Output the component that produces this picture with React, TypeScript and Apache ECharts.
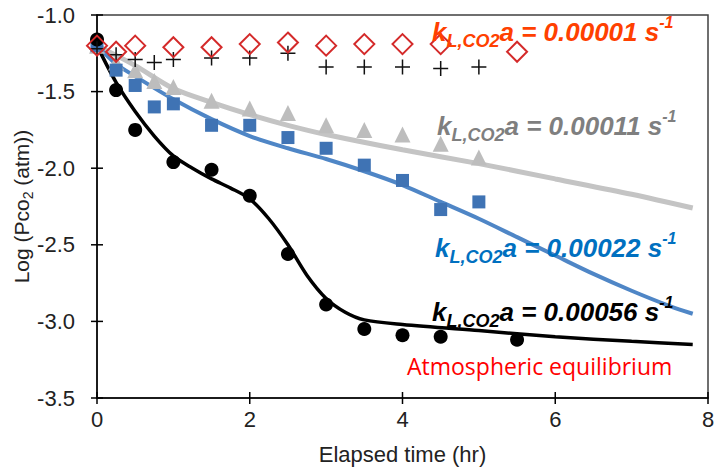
import React, { useEffect, useRef } from "react";
import * as echarts from "echarts";

// Measured points
const blackX = [0, 0.25, 0.5, 1, 1.5, 2, 2.5, 3, 3.5, 4, 4.5, 5.5];
const blackY = [-1.16, -1.49, -1.75, -1.96, -2.01, -2.18, -2.56, -2.89, -3.05, -3.09, -3.1, -3.12];
const grayX = [0, 0.25, 0.5, 0.75, 1, 1.5, 2, 2.5, 3, 3.5, 4, 4.5, 5];
const grayY = [-1.2, -1.31, -1.36, -1.43, -1.47, -1.56, -1.61, -1.64, -1.72, -1.75, -1.78, -1.84, -1.93];
const blueX = [0, 0.25, 0.5, 0.75, 1, 1.5, 2, 2.5, 3, 3.5, 4, 4.5, 5];
const blueY = [-1.2, -1.36, -1.46, -1.6, -1.58, -1.72, -1.72, -1.8, -1.87, -1.98, -2.08, -2.27, -2.22];
const redX = [0, 0.25, 0.5, 1, 1.5, 2, 2.5, 3, 3.5, 4, 4.5, 5.5];
const redY = [-1.2, -1.24, -1.2, -1.21, -1.21, -1.19, -1.18, -1.2, -1.19, -1.19, -1.19, -1.24];
const plusX = [0, 0.25, 0.5, 0.75, 1, 1.5, 2, 2.5, 3, 3.5, 4, 4.5, 5];
const plusY = [-1.22, -1.26, -1.29, -1.31, -1.29, -1.28, -1.28, -1.25, -1.34, -1.34, -1.34, -1.35, -1.34];

// Model curves
const blackCurveX = [0, 0.25, 0.5, 0.75, 1, 1.25, 1.5, 1.75, 2, 2.25, 2.5, 2.75, 3, 3.25, 3.5, 4, 5, 6, 7, 7.8];
const blackCurveY = [-1.2, -1.44, -1.63, -1.79, -1.92, -2.0, -2.07, -2.13, -2.2, -2.33, -2.5, -2.7, -2.85, -2.94, -2.99, -3.02, -3.06, -3.1, -3.13, -3.15];
const grayCurveX = [0, 0.5, 1, 1.5, 2, 2.5, 3, 4, 5, 6, 7, 7.8];
const grayCurveY = [-1.2, -1.33, -1.48, -1.57, -1.65, -1.72, -1.78, -1.88, -1.97, -2.07, -2.17, -2.26];
const blueCurveX = [0, 0.25, 0.5, 1, 1.5, 2, 2.5, 3, 3.5, 4, 4.5, 5, 5.5, 6, 6.5, 7, 7.5, 7.8];
const blueCurveY = [-1.2, -1.32, -1.4, -1.55, -1.68, -1.79, -1.87, -1.94, -2.02, -2.11, -2.22, -2.33, -2.45, -2.57, -2.69, -2.8, -2.9, -2.95];

const xTicks = [0, 2, 4, 6, 8];
const yTicks = [-1.0, -1.5, -2.0, -2.5, -3.0, -3.5];

const zip = (xs: number[], ys: number[]) => xs.map((x, i) => [x, ys[i]]);

const PLUS = "path://M0,9h20v2h-20zM9,0h2v20h-2z";
const F = "'Liberation Sans', Arial, sans-serif";

function kLabel(value: string, color: string, x: number, y: number) {
  return {
    type: "text",
    x,
    y,
    z: 100,
    style: {
      text: `{m|k}{sub|L,CO2}{m|a = ${value} s}{sup|-1}`,
      fill: color,
      rich: {
        m: { fill: color, fontSize: 26, fontWeight: "bold", fontStyle: "italic", fontFamily: F, lineHeight: 36, verticalAlign: "middle" },
        sub: { fill: color, fontSize: 18, fontWeight: "bold", fontStyle: "italic", fontFamily: F, lineHeight: 36, verticalAlign: "bottom" },
        sup: { fill: color, fontSize: 16, fontWeight: "bold", fontStyle: "italic", fontFamily: F, lineHeight: 22, verticalAlign: "top" },
      },
    },
  };
}

export default function App() {
  const ref = useRef<HTMLDivElement>(null);
  useEffect(() => {
    if (!ref.current) return;
    const chart = echarts.init(ref.current, undefined, { renderer: "svg" });
    const tickRender = (dir: "x" | "y") => (params: any, api: any) => {
      const p = api.coord([api.value(0), api.value(1)]);
      const s = { stroke: "#000", lineWidth: 1.5 };
      if (dir === "x")
        return { type: "line", shape: { x1: p[0], y1: p[1] - 6, x2: p[0], y2: p[1] + 6 }, style: s };
      return { type: "line", shape: { x1: p[0] - 6, y1: p[1], x2: p[0] + 6, y2: p[1] }, style: s };
    };
    chart.setOption({
      animation: false,
      backgroundColor: "#fff",
      grid: {
        left: 97, right: 8, top: 15, bottom: 73,
        containLabel: false, outerBoundsMode: "none",
        show: true, borderColor: "#404040", borderWidth: 1.5, backgroundColor: "transparent",
      },
      xAxis: {
        type: "value",
        min: 0,
        max: 8,
        interval: 2,
        axisLine: { show: true, onZero: false, lineStyle: { color: "#000", width: 1.5 } },
        axisTick: { show: false },
        splitLine: { show: false },
        axisLabel: { fontSize: 22, color: "#222", margin: 10, fontFamily: F },
        name: "Elapsed time (hr)",
        nameLocation: "middle",
        nameGap: 45,
        nameMoveOverlap: false,
        nameTextStyle: { fontSize: 22, color: "#222", fontFamily: F },
      },
      yAxis: {
        type: "value",
        min: -3.5,
        max: -1,
        interval: 0.5,
        axisLine: { show: true, onZero: false, lineStyle: { color: "#000", width: 1.5 } },
        axisTick: { show: false },
        splitLine: { show: false },
        axisLabel: { fontSize: 22, color: "#222", margin: 22, fontFamily: F, formatter: (v: number) => v.toFixed(1) },
        name: "{a|Log (Pco}{s|2}{a| (atm))}",
        nameLocation: "middle",
        nameGap: 62,
        nameMoveOverlap: false,
        nameTextStyle: {
          fontFamily: F,
          color: "#222",
          rich: {
            a: { fontSize: 21, fontFamily: F, color: "#222", lineHeight: 28, verticalAlign: "middle" },
            s: { fontSize: 14, fontFamily: F, color: "#222", lineHeight: 28, verticalAlign: "bottom" },
          },
        },
      },
      series: [
        { type: "line", data: zip(grayCurveX, grayCurveY), smooth: 0.3, showSymbol: false, lineStyle: { color: "#c4c4c4", width: 5 }, z: 2 },
        { type: "line", data: zip(blueCurveX, blueCurveY), smooth: 0.3, showSymbol: false, lineStyle: { color: "#4f86c6", width: 4 }, z: 2 },
        { type: "line", data: zip(blackCurveX, blackCurveY), smooth: 0.3, showSymbol: false, lineStyle: { color: "#000", width: 3.5 }, z: 2 },
        { type: "scatter", data: zip(grayX, grayY), symbol: "triangle", symbolSize: 16, itemStyle: { color: "#bdbdbd", opacity: 1 }, z: 3 },
        { type: "scatter", data: zip(blueX, blueY), symbol: "rect", symbolSize: 13, itemStyle: { color: "#3f73b4", opacity: 1 }, z: 3 },
        { type: "scatter", data: zip(blackX, blackY), symbol: "circle", symbolSize: 14, itemStyle: { color: "#000", opacity: 1 }, z: 4 },
        { type: "scatter", data: zip(plusX, plusY), symbol: PLUS, symbolSize: 15, itemStyle: { color: "#111", opacity: 1 }, z: 4 },
        { type: "scatter", data: zip(redX, redY), symbol: "diamond", symbolSize: [20, 20], itemStyle: { color: "rgba(255,255,255,0)", borderColor: "#d42a2a", borderWidth: 2, opacity: 1 }, z: 5 },
        { type: "custom", data: xTicks.map((v) => [v, -3.5]), renderItem: tickRender("x"), silent: true, z: 6 },
        { type: "custom", data: yTicks.map((v) => [0, v]), renderItem: tickRender("y"), silent: true, z: 6 },
      ],
      graphic: [
        kLabel("0.00001", "#ff4000", 432, 14),
        kLabel("0.00011", "#7f7f7f", 437, 108),
        kLabel("0.00022", "#0070c0", 435, 230),
        kLabel("0.00056", "#000000", 432, 294),
        {
          type: "text",
          x: 407,
          y: 354,
          z: 100,
          style: { text: "Atmospheric equilibrium", fill: "#ff0000", fontSize: 23, fontFamily: "'Open Sans', 'Noto Sans', sans-serif" },
        },
      ],
    });
    return () => chart.dispose();
  }, []);
  return <div ref={ref} style={{ position: "fixed", left: 0, top: 0, width: 716, height: 471 }} />;
}
